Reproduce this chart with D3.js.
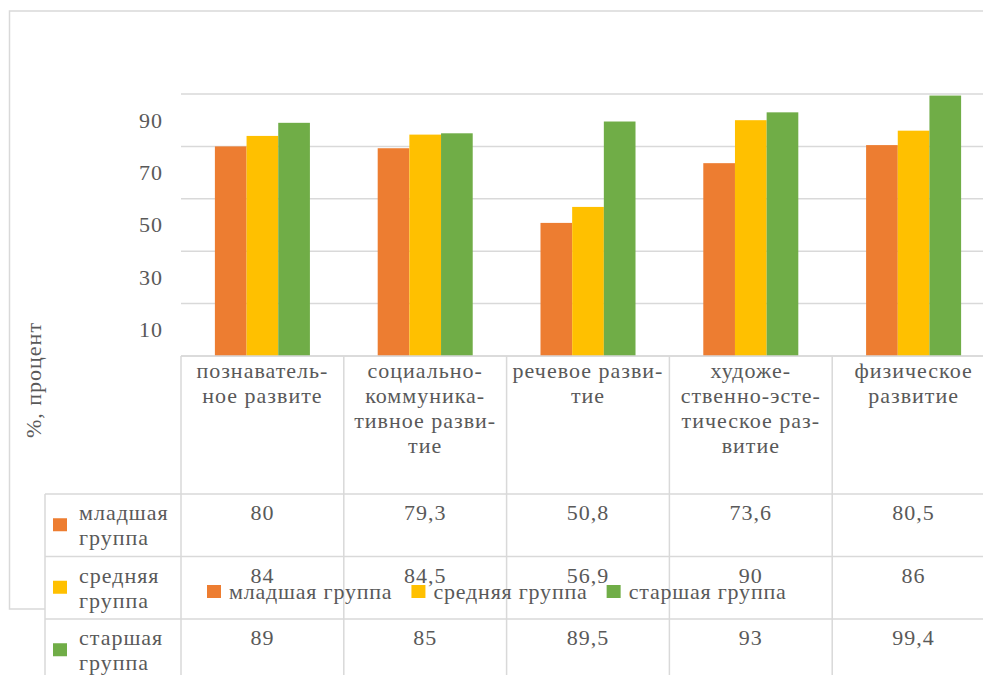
<!DOCTYPE html>
<html>
<head>
<meta charset="utf-8">
<script src="https://cdn.jsdelivr.net/npm/d3@7"></script>
<style>
  html, body { margin: 0; padding: 0; background: #fff; overflow: hidden; }
  svg { display: block; }
</style>
</head>
<body>
<svg id="chart" width="983" height="675"></svg>
<script>
"use strict";

// --- data ---
var categories = ["познавательное развите", "социально-коммуникативное развитие",
    "речевое развитие", "художественно-эстетическое развитие", "физическое развитие"];
// line breaks as shown on the chart
var categoryLines = [
    ["познаватель-", "ное развите"],
    ["социально-", "коммуника-", "тивное разви-", "тие"],
    ["речевое разви-", "тие"],
    ["художе-", "ственно-эсте-", "тическое раз-", "витие"],
    ["физическое", "развитие"]
];
var seriesNames = ["младшая группа", "средняя группа", "старшая группа"];
var seriesLines = [["младшая", "группа"], ["средняя", "группа"], ["старшая", "группа"]];
var youngValues = [80, 79.3, 50.8, 73.6, 80.5];
var middleValues = [84, 84.5, 56.9, 90, 86];
var olderValues = [89, 85, 89.5, 93, 99.4];
var seriesValues = [youngValues, middleValues, olderValues];
var gridTicks = [0, 20, 40, 60, 80, 100];
var labelTicks = [10, 30, 50, 70, 90];
var colors = ["#ED7D31", "#FFC000", "#70AD47"];
var yTitle = "%, процент";

// --- layout ---
var FONT = "'Liberation Serif', 'Times New Roman', serif";
var FS = 22, LS = 1;
var svg = d3.select("#chart");
var plotLeft = 181, plotRight = 995, plotTop = 94, plotBottom = 356;
var tableLeft = 45, headerBottom = 494, rowH = 62.5;
var lineColor = "#d9d9d9";
var fmt = v => String(v).replace(".", ",");

var txt = sel => sel.style("font-family", FONT).attr("font-size", FS)
    .attr("letter-spacing", LS).attr("fill", "#595959");

var x = d3.scaleBand().domain(d3.range(categories.length)).range([plotLeft, plotRight]).padding(0);
var xs = d3.scaleBand().domain(d3.range(seriesNames.length)).range([0, x.bandwidth()])
    .paddingInner(0).paddingOuter(1.07);
var y = d3.scaleLinear().domain([0, 100]).range([plotBottom, plotTop]);

// chart frame
svg.append("rect")
    .attr("x", 9.5).attr("y", 11).attr("width", 1000).attr("height", 598)
    .attr("fill", "#fff").attr("stroke", lineColor).attr("stroke-width", 1.5);

// gridlines
svg.append("g").selectAll("line").data(gridTicks).enter().append("line")
    .attr("x1", plotLeft).attr("x2", plotRight)
    .attr("y1", d => y(d)).attr("y2", d => y(d))
    .attr("stroke", lineColor).attr("stroke-width", 1.5);

// tick labels
svg.append("g").selectAll("text").data(labelTicks).enter().append("text")
    .call(txt)
    .attr("x", 163).attr("y", d => y(d)).attr("dy", "0.34em")
    .attr("text-anchor", "end")
    .text(d => d);

// y title
svg.append("text").call(txt)
    .attr("transform", "translate(41,380) rotate(-90)")
    .attr("text-anchor", "middle")
    .text(yTitle);

// bars
var groups = svg.append("g").selectAll("g").data(seriesValues).enter().append("g")
    .attr("fill", (d, i) => colors[i]);
groups.each(function(vals, si){
    d3.select(this).selectAll("rect").data(vals).enter().append("rect")
        .attr("x", (d, ci) => x(ci) + xs(si))
        .attr("width", xs.bandwidth())
        .attr("y", d => y(d))
        .attr("height", d => y(0) - y(d));
});

// data table
var table = svg.append("g");
var rowsTop = d => headerBottom + d * rowH;
table.append("rect")
    .attr("x", tableLeft).attr("y", headerBottom)
    .attr("width", 1000).attr("height", rowH * 3)
    .attr("fill", "#fff");
table.selectAll("line.h").data(d3.range(seriesNames.length + 1)).enter().append("line")
    .attr("x1", tableLeft).attr("x2", 1000)
    .attr("y1", rowsTop).attr("y2", rowsTop)
    .attr("stroke", lineColor).attr("stroke-width", 1.5);
table.selectAll("line.v").data(d3.range(categories.length + 1)).enter().append("line")
    .attr("x1", d => plotLeft + d * x.step()).attr("x2", d => plotLeft + d * x.step())
    .attr("y1", plotBottom).attr("y2", 680)
    .attr("stroke", lineColor).attr("stroke-width", 1.5);
table.append("line")
    .attr("x1", tableLeft).attr("x2", tableLeft).attr("y1", headerBottom).attr("y2", 680)
    .attr("stroke", lineColor).attr("stroke-width", 1.5);
table.append("line")
    .attr("x1", plotLeft).attr("x2", plotRight).attr("y1", y(0)).attr("y2", y(0))
    .attr("stroke", lineColor).attr("stroke-width", 1.5);

// category labels
categoryLines.forEach(function(lines, ci){
    table.append("text").call(txt)
        .attr("text-anchor", "middle")
        .selectAll("tspan").data(lines).enter().append("tspan")
        .attr("x", x(ci) + x.bandwidth() / 2)
        .attr("y", (d, li) => 378 + li * 25)
        .text(d => d);
});

// series rows
seriesValues.forEach(function(vals, si){
    var top = rowsTop(si);
    table.append("rect")
        .attr("x", 53).attr("y", top + rowH / 2 - 7).attr("width", 14).attr("height", 13)
        .attr("fill", colors[si]);
    table.append("text").call(txt)
        .selectAll("tspan").data(seriesLines[si]).enter().append("tspan")
        .attr("x", 79).attr("y", (d, li) => top + 26 + li * 25)
        .text(d => d);
    table.append("g").selectAll("text").data(vals).enter().append("text")
        .call(txt)
        .attr("x", (d, ci) => x(ci) + x.bandwidth() / 2)
        .attr("y", top + 26)
        .attr("text-anchor", "middle")
        .text(fmt);
});

// legend (overlaps the table, as in the original)
var legend = svg.append("g");
var lx = 207;
seriesNames.forEach(function(name, si){
    legend.append("rect")
        .attr("x", lx).attr("y", 585).attr("width", 14).attr("height", 13)
        .attr("fill", colors[si]);
    var t = legend.append("text").call(txt)
        .attr("letter-spacing", 0.8)
        .attr("x", lx + 22).attr("y", 599)
        .text(name);
    lx += 22 + t.node().getComputedTextLength() + 19;
});
</script>
</body>
</html>
